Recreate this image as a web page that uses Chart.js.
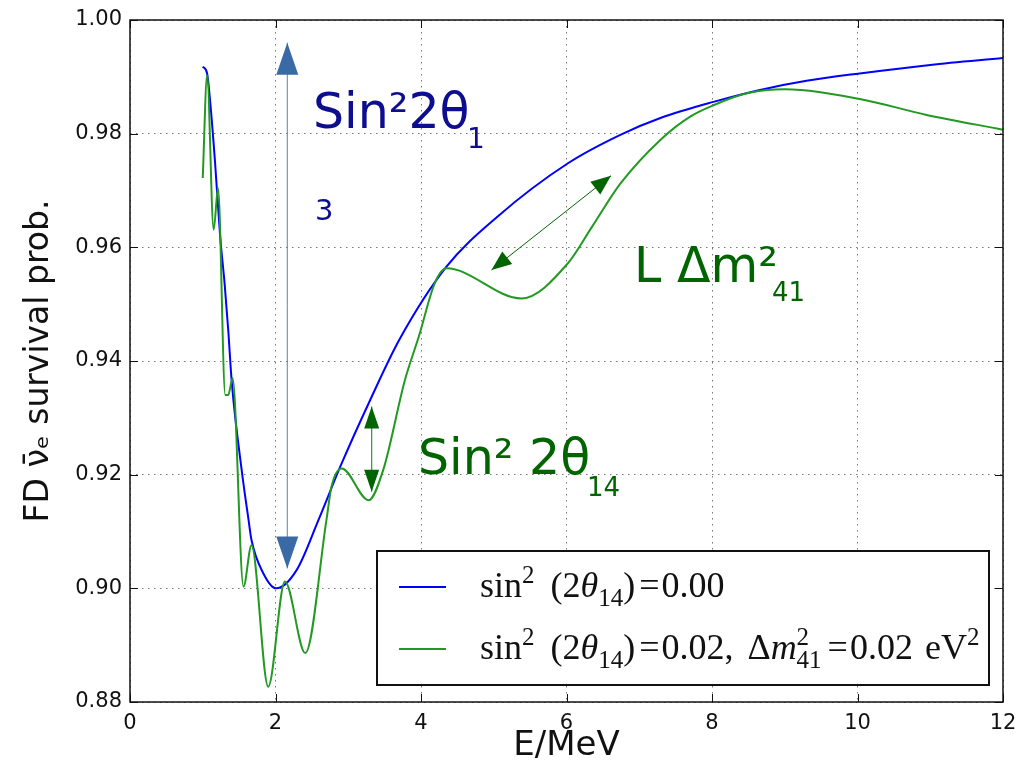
<!DOCTYPE html>
<html>
<head>
<meta charset="utf-8">
<script src="https://cdn.jsdelivr.net/npm/chart.js@4.4.1/dist/chart.umd.min.js"></script>
<style>
  html, body { margin: 0; padding: 0; background: #fff; }
  canvas { display: block; }
</style>
</head>
<body>
<canvas id="chart" width="1017" height="768"></canvas>
<script>
// survival probability vs antineutrino energy
const energyNoSterile = [1.00, 1.06, 1.10, 1.17, 1.24, 1.30, 1.35, 1.40, 1.54, 1.63, 1.67, 1.83, 2.01, 2.29, 2.59, 2.89, 3.30, 3.70, 4.35, 5.05, 6.02, 6.74, 7.30, 8.02, 8.66, 9.30, 10.03, 11.00, 12.00];
const probNoSterile   = [0.9918, 0.9906, 0.9859, 0.9748, 0.9618, 0.9537, 0.9455, 0.9361, 0.9203, 0.9120, 0.9085, 0.9027, 0.9000, 0.9032, 0.9120, 0.9214, 0.9331, 0.9437, 0.9566, 0.9654, 0.9748, 0.9798, 0.9828, 0.9856, 0.9877, 0.9893, 0.9906, 0.9921, 0.9933];

const energySterile = [1.00, 1.06, 1.15, 1.21, 1.31, 1.35, 1.41, 1.56, 1.67, 1.90, 2.13, 2.41, 2.70, 2.77, 2.91, 3.28, 3.48, 3.78, 3.97, 4.19, 4.35, 5.38, 6.02, 6.35, 6.74, 7.29, 7.70, 8.02, 8.48, 9.00, 10.03, 10.95, 12.00];
const probSterile   = [0.9722, 0.9903, 0.9631, 0.9704, 0.9340, 0.9340, 0.9370, 0.9003, 0.9076, 0.8827, 0.9012, 0.8886, 0.9120, 0.9179, 0.9211, 0.9155, 0.9208, 0.9367, 0.9443, 0.9537, 0.9563, 0.9510, 0.9572, 0.9636, 0.9712, 0.9789, 0.9830, 0.9850, 0.9871, 0.9878, 0.9861, 0.9833, 0.9807];

const legendLabels = [
  [{t: 'sin'}, {t: '2', s: 'sup'}, {gap: 16}, {t: '(2'}, {t: 'θ', it: true}, {t: '14', s: 'sub'}, {t: ')'}, {gap: 4}, {t: '='}, {gap: 2}, {t: '0.00'}],
  [{t: 'sin'}, {t: '2', s: 'sup'}, {gap: 16}, {t: '(2'}, {t: 'θ', it: true}, {t: '14', s: 'sub'}, {t: ')'}, {gap: 4}, {t: '='}, {gap: 2}, {t: '0.02,'},
   {gap: 14}, {t: 'Δ'}, {t: 'm', it: true}, {t: '2', s: 'sup', keep: true}, {t: '41', s: 'sub'}, {gap: 6}, {t: '='}, {gap: 2}, {t: '0.02'}, {gap: 12}, {t: 'eV'}, {t: '2', s: 'sup'}]
];

const BLUE = '#0000ff';
const GREEN = '#229922';
const DARKGREEN = '#006400';
const NAVY = '#0d0d8f';
const ARROWBLUE = '#3a6aa5';

function toPoints(xs, ys) {
  return xs.map((x, i) => ({x: x, y: ys[i]}));
}

function arrowHead(ctx, tx, ty, fx, fy, len, half) {
  const a = Math.atan2(ty - fy, tx - fx);
  const bx = tx - len * Math.cos(a), by = ty - len * Math.sin(a);
  ctx.beginPath();
  ctx.moveTo(tx, ty);
  ctx.lineTo(bx + half * Math.sin(a), by - half * Math.cos(a));
  ctx.lineTo(bx - half * Math.sin(a), by + half * Math.cos(a));
  ctx.closePath();
  ctx.fill();
}

function doubleArrow(ctx, x1, y1, x2, y2, len, half, lineColor, headColor, lw) {
  ctx.save();
  ctx.strokeStyle = lineColor;
  ctx.lineWidth = lw;
  ctx.beginPath();
  ctx.moveTo(x1, y1);
  ctx.lineTo(x2, y2);
  ctx.stroke();
  ctx.fillStyle = headColor;
  arrowHead(ctx, x1, y1, x2, y2, len, half);
  arrowHead(ctx, x2, y2, x1, y1, len, half);
  ctx.restore();
}

function drawRich(ctx, x, y, parts, base) {
  for (const p of parts) {
    if (p.gap) { x += p.gap; continue; }
    const size = p.s ? Math.round(base * 0.7) : base;
    ctx.font = (p.it ? 'italic ' : '') + size + 'px "Liberation Serif"';
    const dy = p.s === 'sup' ? -base * 0.4 : p.s === 'sub' ? base * 0.25 : 0;
    ctx.fillText(p.t, x, y + dy);
    if (!p.keep) x += ctx.measureText(p.t).width;
  }
}

function label(ctx, text, x, y, size, color) {
  ctx.font = size + 'px "DejaVu Sans"';
  ctx.fillStyle = color;
  ctx.fillText(text, x, y);
}

const annotations = {
  id: 'annotations',
  afterDatasetsDraw(chart) {
    const {ctx, chartArea: a, scales: {x, y}} = chart;
    ctx.save();
    ctx.textAlign = 'left';
    ctx.textBaseline = 'alphabetic';

    // amplitude arrow of the main oscillation
    doubleArrow(ctx, x.getPixelForValue(2.162), y.getPixelForValue(0.9960),
      x.getPixelForValue(2.162), y.getPixelForValue(0.9035), 32, 11, '#5a80b5', ARROWBLUE, 1);
    label(ctx, 'Sin²2θ', x.getPixelForValue(2.515), y.getPixelForValue(0.9810), 49, NAVY);
    label(ctx, '1', x.getPixelForValue(4.632), y.getPixelForValue(0.9775), 28, NAVY);
    label(ctx, '3', x.getPixelForValue(2.543), y.getPixelForValue(0.9648), 29, NAVY);

    // sterile amplitude
    doubleArrow(ctx, x.getPixelForValue(3.322), y.getPixelForValue(0.9320),
      x.getPixelForValue(3.322), y.getPixelForValue(0.9170), 22, 7.5, '#3c8c3c', DARKGREEN, 1.2);
    label(ctx, 'Sin² 2θ', x.getPixelForValue(3.959), y.getPixelForValue(0.9201), 49, DARKGREEN);
    label(ctx, '14', x.getPixelForValue(6.282), y.getPixelForValue(0.9163), 26, DARKGREEN);

    // sterile period
    doubleArrow(ctx, x.getPixelForValue(4.969), y.getPixelForValue(0.9560),
      x.getPixelForValue(6.612), y.getPixelForValue(0.9726), 20, 8, DARKGREEN, DARKGREEN, 1);
    label(ctx, 'L Δm²', x.getPixelForValue(6.928), y.getPixelForValue(0.9539), 49, DARKGREEN);
    label(ctx, '41', x.getPixelForValue(8.825), y.getPixelForValue(0.9506), 26, DARKGREEN);

    // legend box
    const bw = 612, bh = 134;
    const bx = a.right - 14 - bw, by = a.bottom - 17 - bh;
    ctx.fillStyle = '#fff';
    ctx.fillRect(bx, by, bw, bh);
    ctx.strokeStyle = '#111';
    ctx.lineWidth = 2;
    ctx.strokeRect(bx, by, bw, bh);
    const colors = [BLUE, GREEN];
    const rows = [36, 98];
    ctx.lineWidth = 2;
    rows.forEach((r, i) => {
      ctx.strokeStyle = colors[i];
      ctx.beginPath();
      ctx.moveTo(bx + 22, by + r);
      ctx.lineTo(bx + 69, by + r);
      ctx.stroke();
      ctx.fillStyle = '#111';
      drawRich(ctx, bx + 103, by + r + 10, legendLabels[i], 36);
    });
    ctx.restore();
  },
  afterDraw(chart) {
    const {ctx, chartArea: a, scales: {x, y}} = chart;
    ctx.save();
    ctx.strokeStyle = '#111';
    ctx.lineWidth = 1;
    ctx.beginPath();
    x.ticks.forEach(t => {
      const px = Math.round(x.getPixelForValue(t.value)) + 0.5;
      ctx.moveTo(px, a.bottom); ctx.lineTo(px, a.bottom - 8);
      ctx.moveTo(px, a.top); ctx.lineTo(px, a.top + 8);
    });
    y.ticks.forEach(t => {
      const py = Math.round(y.getPixelForValue(t.value)) + 0.5;
      ctx.moveTo(a.left, py); ctx.lineTo(a.left + 8, py);
      ctx.moveTo(a.right, py); ctx.lineTo(a.right - 8, py);
    });
    ctx.stroke();
    ctx.lineWidth = 1.5;
    ctx.strokeRect(a.left, a.top, a.right - a.left, a.bottom - a.top);
    ctx.restore();
  }
};

new Chart(document.getElementById('chart'), {
  type: 'line',
  data: {
    datasets: [
      {
        label: 'sin2(2θ14)=0.00',
        data: toPoints(energyNoSterile, probNoSterile),
        borderColor: BLUE,
        borderWidth: 2,
        pointRadius: 0,
        cubicInterpolationMode: 'monotone',
        order: 1
      },
      {
        label: 'sin2(2θ14)=0.02, Δm²41=0.02 eV²',
        data: toPoints(energySterile, probSterile),
        borderColor: GREEN,
        borderWidth: 2,
        pointRadius: 0,
        cubicInterpolationMode: 'monotone',
        order: 0
      }
    ]
  },
  options: {
    responsive: false,
    animation: false,
    layout: { padding: { top: 20, right: 14, left: 0, bottom: 0 } },
    plugins: { legend: { display: false }, tooltip: { enabled: false } },
    scales: {
      x: {
        type: 'linear',
        min: 0,
        max: 12,
        afterFit(scale) { scale.height = 66; scale.paddingLeft = 0; scale.paddingRight = 0; },
        grid: { color: '#777', lineWidth: 1, drawTicks: false },
        border: { display: false, dash: [1.5, 4.5] },
        ticks: { stepSize: 2, padding: 9, color: '#111', font: { family: 'DejaVu Sans', size: 21 } },
        title: { display: true, text: 'E/MeV', color: '#111', font: { family: 'DejaVu Sans', size: 34 }, padding: { top: 0, bottom: 1 } }
      },
      y: {
        min: 0.88,
        max: 1.0,
        afterFit(scale) { scale.width = 130; scale.paddingTop = 0; scale.paddingBottom = 0; },
        grid: { color: '#777', lineWidth: 1, drawTicks: false },
        border: { display: false, dash: [1.5, 4.5] },
        ticks: {
          stepSize: 0.02,
          padding: 8,
          color: '#111',
          font: { family: 'DejaVu Sans', size: 21 },
          callback: v => v.toFixed(2)
        },
        title: { display: true, text: 'FD ν̄ₑ survival prob.', color: '#111', font: { family: 'DejaVu Sans', size: 33 }, padding: { top: 20, bottom: 0 } }
      }
    }
  },
  plugins: [annotations]
});
</script>
</body>
</html>
